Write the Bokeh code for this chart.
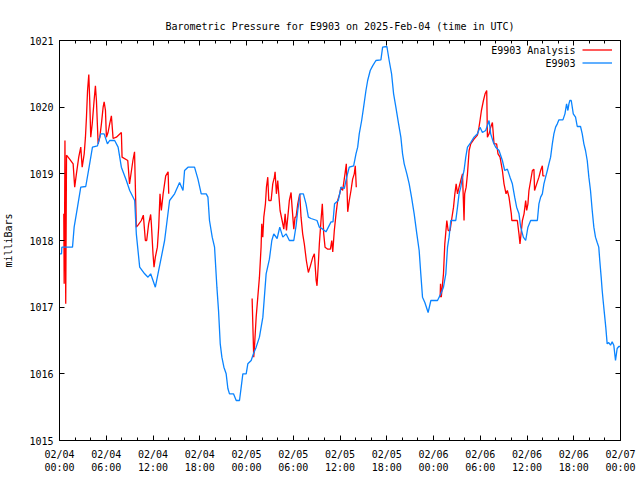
import math
from bokeh.plotting import figure
from bokeh.models import (Range1d, FixedTicker, LinearAxis, Legend, LegendItem, Label)
from bokeh.embed import file_html
from bokeh.resources import INLINE

NaN = float("nan")

# E9903 station observations: hours since 2025-02-04 00:00 UTC, pressure (mb)
blue_hours = [0.00, 0.26, 0.30, 1.67, 1.88, 2.31, 2.73, 3.37, 3.80, 4.23, 4.87, 5.29, 5.73, 6.15, 6.44,
              7.08, 7.52, 7.94, 8.58, 9.01, 9.65, 9.86, 10.29, 10.93, 11.36, 11.70, 12.00, 12.30, 12.64,
              13.07, 13.49, 14.13, 14.77, 15.41, 15.85, 16.05, 16.49, 17.33, 17.77, 18.19, 18.83, 19.05,
              19.25, 19.60, 19.90, 20.20, 20.41, 20.63, 20.84, 21.10, 21.39, 21.61, 21.82, 22.33, 22.68,
              23.10, 23.32, 23.53, 23.96, 24.17, 24.60, 24.89, 25.24, 25.66, 26.10, 26.52, 26.94, 27.25,
              27.50, 27.93, 28.27, 28.66, 29.08, 29.50, 30.07, 30.36, 30.58, 30.87, 31.30, 31.64, 31.94,
              32.28, 33.05, 33.35, 33.78, 34.20, 34.85, 35.10, 35.30, 35.78, 36.13, 36.55, 36.86, 37.19,
              37.75, 38.05, 38.27, 38.47, 38.78, 39.03, 39.33, 39.55, 39.88, 40.19, 40.61, 41.25, 41.47,
              42.02, 42.31, 42.62, 42.88, 43.17, 43.52, 43.81, 44.03, 44.24, 44.58, 44.88, 45.18, 45.52,
              45.86, 46.16, 46.37, 46.59, 46.89, 47.31, 47.66, 48.51, 48.94, 49.28, 49.58, 49.80, 50.00,
              50.22, 50.86, 51.08, 51.28, 51.50, 51.72, 51.92, 52.14, 52.36, 52.78, 53.20, 53.64, 53.97,
              54.28, 54.70, 55.13, 55.34, 55.69, 55.98, 56.41, 56.84, 57.14, 57.48, 57.82, 58.12, 58.42,
              58.67, 58.97, 59.19, 59.53, 59.83, 60.12, 60.47, 61.33, 61.53, 61.75, 61.97, 62.17, 62.39,
              62.61, 62.81, 63.03, 63.25, 63.45, 63.67, 63.89, 64.10, 64.61, 64.87, 65.08, 65.25, 65.38,
              65.50, 65.68, 65.94, 66.23, 66.45, 66.87, 67.09, 67.30, 67.51, 67.73, 67.94, 68.15, 68.37,
              68.58, 68.79, 69.01, 69.21, 69.34, 69.52, 69.65, 69.77, 69.94, 70.11, 70.29, 70.49, 70.72,
              70.93, 71.14, 71.36, 71.57, 71.78, 72.00]
blue_mb = [1017.80, 1017.80, 1017.90, 1017.90, 1018.20, 1018.50, 1018.80, 1018.81, 1019.10, 1019.40, 1019.42,
           1019.60, 1019.60, 1019.45, 1019.50, 1019.50, 1019.40, 1019.10, 1018.90, 1018.75, 1018.60, 1018.10,
           1017.60, 1017.50, 1017.45, 1017.50, 1017.40, 1017.30, 1017.50, 1017.75, 1018.00, 1018.60, 1018.70,
           1018.87, 1018.75, 1019.05, 1019.10, 1019.10, 1018.92, 1018.70, 1018.70, 1018.65, 1018.30, 1018.05,
           1017.90, 1017.30, 1016.95, 1016.45, 1016.25, 1016.10, 1016.00, 1015.78, 1015.70, 1015.70, 1015.60,
           1015.60, 1015.80, 1016.00, 1016.00, 1016.15, 1016.20, 1016.30, 1016.40, 1016.55, 1016.85, 1017.50,
           1017.72, 1018.00, 1018.10, 1018.03, 1018.20, 1018.05, 1018.10, 1018.00, 1018.00, 1018.22, 1018.45,
           1018.70, 1018.70, 1018.55, 1018.35, 1018.33, 1018.30, 1018.20, 1018.17, 1018.13, 1018.28, 1018.28,
           1018.55, 1018.60, 1018.80, 1018.78, 1018.95, 1019.10, 1019.12, 1019.30, 1019.40, 1019.60, 1019.80,
           1020.00, 1020.25, 1020.40, 1020.55, 1020.62, 1020.70, 1020.71, 1020.90, 1020.91, 1020.70, 1020.50,
           1020.20, 1020.00, 1019.75, 1019.55, 1019.30, 1019.15, 1019.00, 1018.85, 1018.65, 1018.40, 1018.10,
           1017.85, 1017.50, 1017.15, 1017.07, 1016.92, 1017.10, 1017.10, 1017.20, 1017.30, 1017.50, 1017.90,
           1018.05, 1018.30, 1018.30, 1018.50, 1018.70, 1018.80, 1018.95, 1019.05, 1019.25, 1019.40, 1019.47,
           1019.55, 1019.60, 1019.70, 1019.62, 1019.65, 1019.80, 1019.60, 1019.47, 1019.40, 1019.35, 1019.20,
           1019.05, 1019.07, 1018.95, 1018.85, 1018.65, 1018.50, 1018.40, 1018.20, 1018.05, 1018.00, 1018.20,
           1018.30, 1018.30, 1018.55, 1018.65, 1018.70, 1018.85, 1018.95, 1019.05, 1019.15, 1019.25, 1019.45,
           1019.60, 1019.70, 1019.75, 1019.81, 1019.81, 1019.90, 1020.05, 1019.95, 1020.05, 1020.10, 1020.10,
           1019.90, 1019.85, 1019.71, 1019.71, 1019.60, 1019.45, 1019.35, 1019.20, 1018.95, 1018.75, 1018.45,
           1018.20, 1018.05, 1017.97, 1017.90, 1017.70, 1017.45, 1017.25, 1017.10, 1016.90, 1016.70, 1016.45,
           1016.47, 1016.43, 1016.48, 1016.43, 1016.20, 1016.38, 1016.41, 1016.41]

# E9903 Analysis (three daily segments, NaN = gap)
red_hours = [0.55, 0.60, 0.66, 0.70, 0.80, 0.90, 1.30, 1.75, 1.95, 2.17, 2.47, 2.73, 2.91, 3.17, 3.33, 3.46,
             3.60, 3.76, 3.88, 4.01, 4.20, 4.44, 4.61, 4.74, 4.96, 5.17, 5.38, 5.60, 5.73, 5.90, 6.02, 6.23,
             6.44, 6.66, 6.88, 7.30, 7.94, 8.03, 8.76, 8.99, 9.20, 9.42, 9.63, 9.86, 10.08, 10.50, 10.76,
             11.02, 11.19, 11.44, 11.70, 11.79, 12.00, 12.13, 12.30, 12.56, 12.73, 12.90, 13.07, 13.30, 13.63,
             13.94, 14.02, NaN,
             24.72, 24.93, 25.02, 25.24, 25.45, 25.66, 25.87, 25.96, 26.09, 26.22, 26.43, 26.56, 26.73, 26.86,
             27.16, 27.37, 27.58, 27.67, 27.84, 28.01, 28.14, 28.31, 28.57, 28.79, 28.96, 29.13, 29.30, 29.50,
             29.72, 29.85, 30.07, 30.23, 30.36, 30.58, 30.83, 31.00, 31.21, 31.42, 31.68, 31.94, 32.20, 32.51,
             32.71, 32.94, 33.05, 33.22, 33.35, 33.56, 33.73, 33.91, 34.08, 34.43, 34.77, 34.94, 35.07, 35.27,
             35.49, 35.70, 35.96, 36.13, 36.34, 36.64, 36.81, 36.99, 37.19, 37.41, 37.62, 37.83, 37.96, 38.09,
             NaN,
             48.85, 48.90, 49.00, 49.28, 49.45, 49.71, 49.88, 50.13, 50.31, 50.57, 50.74, 50.91, 51.08, 51.28,
             51.50, 51.72, 51.92, 52.00, 52.19, 52.36, 52.57, 52.78, 53.20, 53.64, 53.84, 53.97, 54.15, 54.41,
             54.62, 54.83, 54.92, 55.13, 55.34, 55.56, 55.77, 56.10, 56.28, 56.54, 56.84, 57.05, 57.31, 57.48,
             57.69, 57.99, 58.05, 58.76, 58.97, 59.10, 59.28, 59.41, 59.62, 59.83, 59.96, 60.12, 60.25, 60.47,
             60.69, 60.89, 60.97, 61.11, 61.53, 61.75, 61.97, 62.04, 62.26]
red_mb = [1018.40, 1017.35, 1018.45, 1019.50, 1017.05, 1019.28, 1019.22, 1019.15, 1018.80, 1019.00, 1019.25,
          1019.40, 1019.10, 1019.30, 1019.55, 1019.85, 1020.25, 1020.49, 1020.10, 1019.55, 1019.75, 1020.10,
          1020.32, 1020.10, 1019.45, 1019.55, 1019.75, 1020.00, 1020.08, 1019.95, 1019.55, 1019.62, 1019.75,
          1019.87, 1019.53, 1019.55, 1019.62, 1019.25, 1019.20, 1018.85, 1019.02, 1019.20, 1019.33, 1018.20,
          1018.23, 1018.30, 1018.38, 1018.00, 1018.00, 1018.25, 1018.39, 1018.25, 1017.80, 1017.60, 1017.75,
          1017.90, 1018.20, 1018.70, 1018.45, 1018.70, 1018.97, 1019.03, 1018.70, NaN,
          1017.13, 1016.25, 1016.40, 1016.85, 1017.15, 1017.45, 1017.90, 1018.25, 1018.05, 1018.35, 1018.55,
          1018.80, 1018.95, 1018.60, 1018.60, 1018.85, 1018.95, 1019.03, 1018.70, 1018.90, 1018.70, 1018.45,
          1018.30, 1018.17, 1018.40, 1018.15, 1018.35, 1018.60, 1018.72, 1018.50, 1018.17, 1018.35, 1018.35,
          1018.55, 1018.70, 1018.35, 1018.10, 1017.95, 1017.70, 1017.52, 1017.62, 1017.75, 1017.80, 1017.40,
          1017.32, 1017.65, 1017.95, 1018.30, 1018.55, 1018.10, 1017.90, 1017.87, 1017.87, 1018.00, 1017.83,
          1018.15, 1018.40, 1018.60, 1018.70, 1018.80, 1018.75, 1019.00, 1019.15, 1018.43, 1018.60, 1018.75,
          1018.92, 1019.00, 1019.12, 1018.80, NaN,
          1017.15, 1017.35, 1017.15, 1017.50, 1017.95, 1018.30, 1018.15, 1018.15, 1018.30, 1018.50, 1018.70,
          1018.85, 1018.70, 1018.80, 1018.90, 1019.00, 1018.30, 1018.70, 1018.80, 1019.00, 1019.35, 1019.45,
          1019.52, 1019.58, 1019.70, 1019.80, 1019.95, 1020.10, 1020.20, 1020.25, 1019.55, 1019.60, 1019.70,
          1019.77, 1019.45, 1019.45, 1019.30, 1019.25, 1019.05, 1018.85, 1018.70, 1018.75, 1018.65, 1018.40,
          1018.30, 1018.30, 1018.10, 1017.95, 1018.15, 1018.30, 1018.40, 1018.60, 1018.45, 1018.55, 1018.75,
          1018.90, 1019.05, 1019.07, 1018.75, 1018.80, 1018.95, 1019.05, 1019.12, 1018.97, 1018.97]

x_ticks = [0, 6, 12, 18, 24, 30, 36, 42, 48, 54, 60, 66, 72]
x_tick_labels = ["02/04\n00:00", "02/04\n06:00", "02/04\n12:00", "02/04\n18:00",
                 "02/05\n00:00", "02/05\n06:00", "02/05\n12:00", "02/05\n18:00",
                 "02/06\n00:00", "02/06\n06:00", "02/06\n12:00", "02/06\n18:00",
                 "02/07\n00:00"]
x_minor = [h for h in range(0, 73, 2)]
y_ticks = [1015, 1016, 1017, 1018, 1019, 1020, 1021]

FONT = "DejaVu Sans Mono"
FS = "10px"
RED = "#ff0000"
BLUE = "#0a84ff"
LW = 1.3

p = figure(width=636, height=476, output_backend="svg", toolbar_location=None,
           x_range=Range1d(0, 72), y_range=Range1d(1015, 1021),
           min_border_left=58, min_border_right=16, min_border_top=40, min_border_bottom=36,
           title="Barometric Pressure for E9903 on 2025-Feb-04 (time in UTC)")
p.grid.visible = False
p.outline_line_color = "black"
p.outline_line_width = 1
p.background_fill_color = "white"
p.border_fill_color = "white"

p.title.align = "center"
p.title.text_font = FONT
p.title.text_font_size = FS
p.title.text_font_style = "normal"
p.title.text_color = "black"
p.title.standoff = 17

xt = FixedTicker(ticks=x_ticks, minor_ticks=x_minor)
yt = FixedTicker(ticks=y_ticks)

def style(ax):
    ax.axis_line_color = "black"
    ax.major_tick_in = 5
    ax.major_tick_out = 0
    ax.minor_tick_in = 3
    ax.minor_tick_out = 0
    ax.major_tick_line_color = "black"
    ax.minor_tick_line_color = "black"
    ax.major_label_text_font = FONT
    ax.major_label_text_font_size = FS
    ax.major_label_text_color = "black"

xa = p.xaxis[0]
xa.ticker = xt
xa.major_label_overrides = {t: l for t, l in zip(x_ticks, x_tick_labels)}
style(xa)
xa.major_label_standoff = 8

ya = p.yaxis[0]
ya.ticker = yt
style(ya)
ya.major_label_standoff = 6
ya.axis_label = "milliBars"
ya.axis_label_text_font = FONT
ya.axis_label_text_font_size = FS
ya.axis_label_text_font_style = "normal"
ya.axis_label_text_color = "black"
ya.axis_label_standoff = 12

top = LinearAxis(ticker=FixedTicker(ticks=x_ticks, minor_ticks=x_minor))
style(top)
top.major_label_overrides = {t: "" for t in x_ticks}
top.major_label_text_color = None
top.major_label_standoff = 0
p.add_layout(top, "above")

right = LinearAxis(ticker=FixedTicker(ticks=y_ticks))
style(right)
right.major_label_overrides = {t: "" for t in y_ticks}
right.major_label_text_color = None
right.major_label_standoff = 0
p.add_layout(right, "right")

r_red = p.line(red_hours, red_mb, color=RED, line_width=LW)
r_blue = p.line(blue_hours, blue_mb, color=BLUE, line_width=LW)

legend = Legend(items=[LegendItem(label=" ", renderers=[r_red]),
                       LegendItem(label=" ", renderers=[r_blue])],
                location=(523, 371), orientation="vertical",
                glyph_width=30, glyph_height=13, label_width=0, label_height=13,
                label_standoff=0, padding=0, margin=0, spacing=0,
                border_line_color=None, background_fill_alpha=0,
                label_text_font_size="1px")
p.add_layout(legend)

for txt, yy in (("E9903 Analysis", 390), ("E9903", 377)):
    p.add_layout(Label(x=516, y=yy, x_units="screen", y_units="screen", text=txt,
                       text_align="right", text_baseline="middle",
                       text_font=FONT, text_font_size=FS, text_color="black"))

open("out.html", "w").write(file_html(p, INLINE))
